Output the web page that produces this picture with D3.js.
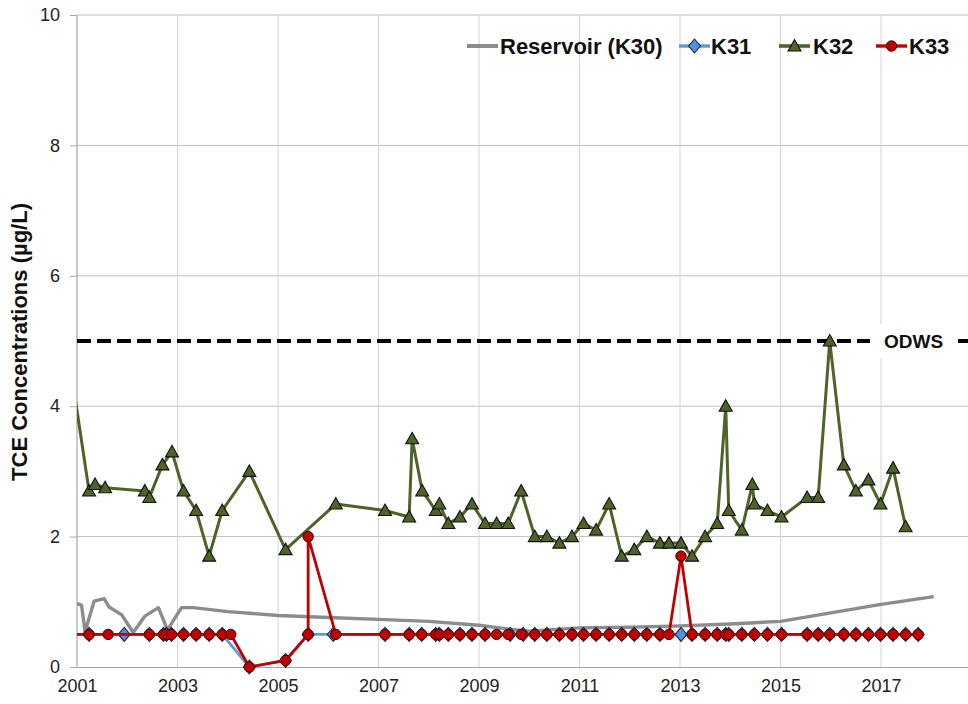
<!DOCTYPE html>
<html>
<head>
<meta charset="utf-8">
<script src="https://cdn.jsdelivr.net/npm/d3@7"></script>
<style>
  html, body { margin: 0; padding: 0; background: #fff; }
  svg { display: block; font-family: "Liberation Sans", Arial, sans-serif; }
</style>
</head>
<body>
<svg id="chart" width="968" height="704"></svg>
<script>
// ---------------- DATA ----------------
const xTickYears = [2001, 2003, 2005, 2007, 2009, 2011, 2013, 2015, 2017];
const yTickValues = [0, 2, 4, 6, 8, 10];
const odwsValue = 5;
const odwsLabel = "ODWS";
const yAxisTitle = "TCE Concentrations (µg/L)";
const seriesNames = ["Reservoir (K30)", "K31", "K32", "K33"];

// Reservoir (K30)
const k30Dates  = [2001.00, 2001.09, 2001.16, 2001.34, 2001.54, 2001.64, 2001.89, 2002.12, 2002.35, 2002.62, 2002.80, 2003.08, 2003.31, 2004.00, 2005.00, 2006.00, 2007.00, 2008.00, 2009.00, 2009.60, 2010.00, 2011.00, 2012.00, 2013.00, 2014.00, 2015.00, 2016.00, 2017.00, 2018.05];
const k30Values = [0.97, 0.95, 0.54, 1.01, 1.05, 0.92, 0.80, 0.53, 0.78, 0.91, 0.57, 0.91, 0.91, 0.85, 0.79, 0.76, 0.73, 0.70, 0.64, 0.58, 0.55, 0.60, 0.61, 0.63, 0.66, 0.70, 0.83, 0.96, 1.08];

// K31
const k31Dates  = [2000.85, 2001.24, 2001.94, 2002.44, 2002.72, 2002.78, 2002.88, 2003.12, 2003.37, 2003.63, 2003.89, 2004.43, 2005.15, 2005.60, 2006.10, 2007.13, 2007.61, 2007.86, 2008.14, 2008.21, 2008.39, 2008.62, 2008.86, 2009.12, 2009.62, 2009.88, 2010.11, 2010.35, 2010.60, 2010.85, 2011.08, 2011.33, 2011.59, 2011.84, 2012.09, 2012.34, 2012.60, 2013.02, 2013.24, 2013.50, 2013.74, 2013.91, 2013.97, 2014.23, 2014.48, 2014.74, 2015.02, 2015.53, 2015.75, 2015.98, 2016.26, 2016.50, 2016.75, 2016.99, 2017.24, 2017.49, 2017.74];
const k31Values = [0.5, 0.5, 0.5, 0.5, 0.5, 0.5, 0.5, 0.5, 0.5, 0.5, 0.5, 0.0, 0.1, 0.5, 0.5, 0.5, 0.5, 0.5, 0.5, 0.5, 0.5, 0.5, 0.5, 0.5, 0.5, 0.5, 0.5, 0.5, 0.5, 0.5, 0.5, 0.5, 0.5, 0.5, 0.5, 0.5, 0.5, 0.5, 0.5, 0.5, 0.5, 0.5, 0.5, 0.5, 0.5, 0.5, 0.5, 0.5, 0.5, 0.5, 0.5, 0.5, 0.5, 0.5, 0.5, 0.5, 0.5];

// K32
const k32Dates  = [2000.85, 2001.24, 2001.36, 2001.56, 2002.35, 2002.44, 2002.70, 2002.89, 2003.12, 2003.37, 2003.63, 2003.89, 2004.43, 2005.15, 2006.15, 2007.13, 2007.61, 2007.67, 2007.87, 2008.14, 2008.21, 2008.39, 2008.62, 2008.86, 2009.12, 2009.35, 2009.58, 2009.84, 2010.11, 2010.35, 2010.60, 2010.85, 2011.08, 2011.33, 2011.59, 2011.84, 2012.09, 2012.34, 2012.60, 2012.78, 2013.02, 2013.24, 2013.50, 2013.74, 2013.91, 2013.97, 2014.23, 2014.44, 2014.48, 2014.74, 2015.02, 2015.53, 2015.75, 2015.98, 2016.26, 2016.50, 2016.75, 2016.99, 2017.24, 2017.49];
const k32Values = [4.7, 2.7, 2.8, 2.75, 2.7, 2.6, 3.1, 3.3, 2.7, 2.4, 1.7, 2.4, 3.0, 1.8, 2.5, 2.4, 2.3, 3.5, 2.7, 2.4, 2.5, 2.2, 2.3, 2.5, 2.2, 2.2, 2.2, 2.7, 2.0, 2.0, 1.9, 2.0, 2.2, 2.1, 2.5, 1.7, 1.8, 2.0, 1.9, 1.9, 1.9, 1.7, 2.0, 2.2, 4.0, 2.4, 2.1, 2.8, 2.5, 2.4, 2.3, 2.6, 2.6, 5.0, 3.1, 2.7, 2.87, 2.5, 3.05, 2.15];

// K33
const k33Dates  = [2000.85, 2001.24, 2001.62, 2002.44, 2002.72, 2002.78, 2002.88, 2003.12, 2003.37, 2003.63, 2003.89, 2004.06, 2004.43, 2005.15, 2005.60, 2005.60, 2006.15, 2007.13, 2007.61, 2007.86, 2008.14, 2008.21, 2008.39, 2008.62, 2008.86, 2009.12, 2009.35, 2009.58, 2009.84, 2010.11, 2010.35, 2010.60, 2010.85, 2011.08, 2011.33, 2011.59, 2011.84, 2012.09, 2012.34, 2012.60, 2012.78, 2013.02, 2013.24, 2013.50, 2013.74, 2013.91, 2013.97, 2014.23, 2014.48, 2014.74, 2015.02, 2015.53, 2015.75, 2015.98, 2016.26, 2016.50, 2016.75, 2016.99, 2017.24, 2017.49, 2017.74];
const k33Values = [0.5, 0.5, 0.5, 0.5, 0.5, 0.5, 0.5, 0.5, 0.5, 0.5, 0.5, 0.5, 0.0, 0.1, 0.5, 2.0, 0.5, 0.5, 0.5, 0.5, 0.5, 0.5, 0.5, 0.5, 0.5, 0.5, 0.5, 0.5, 0.5, 0.5, 0.5, 0.5, 0.5, 0.5, 0.5, 0.5, 0.5, 0.5, 0.5, 0.5, 0.5, 1.7, 0.5, 0.5, 0.5, 0.5, 0.5, 0.5, 0.5, 0.5, 0.5, 0.5, 0.5, 0.5, 0.5, 0.5, 0.5, 0.5, 0.5, 0.5, 0.5];

// ---------------- CHART ----------------
const svg = d3.select("#chart");
const W = 968, H = 704;
const plot = { left: 77, top: 15, bottom: 667, right: 981.5 };

const x = d3.scaleLinear().domain([2001, 2019]).range([plot.left, plot.right]);
const y = d3.scaleLinear().domain([0, 10]).range([plot.bottom, plot.top]);

// gridlines
const grid = svg.append("g");
grid.selectAll("line.h").data(yTickValues.filter(v => v > 0)).join("line")
  .attr("x1", plot.left).attr("x2", W)
  .attr("y1", d => y(d)).attr("y2", d => y(d))
  .attr("stroke", "#bfbfbf").attr("stroke-width", 1);
grid.selectAll("line.v").data(xTickYears.filter(v => v > 2001)).join("line")
  .attr("x1", d => x(d)).attr("x2", d => x(d))
  .attr("y1", plot.top).attr("y2", plot.bottom)
  .attr("stroke", "#d4d4d4").attr("stroke-width", 1);

// axes
const xAxis = d3.axisBottom(x).tickValues(xTickYears).tickFormat(d3.format("d")).tickSize(0).tickPadding(12);
const gx = svg.append("g").attr("transform", `translate(0,${plot.bottom})`).call(xAxis);
gx.select(".domain").attr("stroke", "#a6a6a6").attr("stroke-width", 1.2);
gx.selectAll("text").attr("font-size", 18).attr("fill", "#222").attr("font-family", "Liberation Sans, Arial, sans-serif");

const yAxis = d3.axisLeft(y).tickValues(yTickValues).tickSize(7).tickPadding(10);
const gy = svg.append("g").attr("transform", `translate(${plot.left},0)`).call(yAxis);
gy.select(".domain").attr("stroke", "#a6a6a6").attr("stroke-width", 1.2).attr("d", `M0,${plot.top}V${plot.bottom}`);
gy.selectAll(".tick line").attr("stroke", "#a6a6a6");
gy.selectAll("text").attr("font-size", 18).attr("fill", "#222").attr("font-family", "Liberation Sans, Arial, sans-serif");

// y-axis title
svg.append("text")
  .attr("transform", `translate(27,${342}) rotate(-90)`)
  .attr("text-anchor", "middle")
  .attr("font-size", 22).attr("font-weight", "bold").attr("fill", "#111")
  .text(yAxisTitle);

// ODWS line
svg.append("line")
  .attr("x1", plot.left).attr("x2", W)
  .attr("y1", y(odwsValue)).attr("y2", y(odwsValue))
  .attr("stroke", "#000").attr("stroke-width", 4)
  .attr("stroke-dasharray", "14,6");
svg.append("rect")
  .attr("x", 870).attr("y", y(odwsValue) - 17).attr("width", 88).attr("height", 35)
  .attr("fill", "#fff");
svg.append("text")
  .attr("x", 884).attr("y", y(odwsValue) + 7)
  .attr("font-size", 19).attr("font-weight", "bold").attr("fill", "#111")
  .text(odwsLabel);

// clip for data
svg.append("clipPath").attr("id", "clip").append("rect")
  .attr("x", plot.left).attr("y", 0).attr("width", W - plot.left).attr("height", H);

const dataG = svg.append("g").attr("clip-path", "url(#clip)");
const line = d3.line().x(d => x(d[0])).y(d => y(d[1]));
const zip = (a, b) => a.map((d, i) => [d, b[i]]);

const diamondPath = "M0,-7L6,0L0,7L-6,0Z";
const trianglePath = "M0,-6.5L6.5,5L-6.5,5Z";

const series = [
  { name: seriesNames[0], pts: zip(k30Dates, k30Values), stroke: "#8c8c8c", width: 3.4, marker: null },
  { name: seriesNames[1], pts: zip(k31Dates, k31Values), stroke: "#5b9bd5", width: 2.8, marker: "diamond", fill: "#4f8fdc", mstroke: "#1c2a3a" },
  { name: seriesNames[2], pts: zip(k32Dates, k32Values), stroke: "#4f6228", width: 3.0, marker: "triangle", fill: "#4f6228", mstroke: "#111" },
  { name: seriesNames[3], pts: zip(k33Dates, k33Values), stroke: "#c00000", width: 2.8, marker: "circle", fill: "#c00000", mstroke: "#3a0000" }
];

function drawMarker(g, type, fill, stroke) {
  if (type === "circle") {
    g.append("circle").attr("r", 5.2).attr("fill", fill).attr("stroke", stroke).attr("stroke-width", 1);
  } else {
    g.append("path").attr("d", type === "diamond" ? diamondPath : trianglePath)
      .attr("fill", fill).attr("stroke", stroke).attr("stroke-width", 1.1);
  }
}

series.forEach(s => {
  const g = dataG.append("g");
  g.append("path").datum(s.pts).attr("d", line)
    .attr("fill", "none").attr("stroke", s.stroke).attr("stroke-width", s.width)
    .attr("stroke-linejoin", "round");
  if (s.marker) {
    g.selectAll("g.m").data(s.pts).join("g")
      .attr("transform", d => `translate(${x(d[0])},${y(d[1])})`)
      .each(function () { drawMarker(d3.select(this), s.marker, s.fill, s.mstroke); });
  }
});

// legend
const legendItems = [
  { s: series[0], lx: 467, tx: 500 },
  { s: series[1], lx: 679, tx: 711 },
  { s: series[2], lx: 779, tx: 813 },
  { s: series[3], lx: 876, tx: 909 }
];
const lg = svg.append("g");
legendItems.forEach(it => {
  const ly = 46;
  lg.append("line").attr("x1", it.lx).attr("x2", it.lx + 31).attr("y1", ly).attr("y2", ly)
    .attr("stroke", it.s.stroke).attr("stroke-width", it.s.width + 0.6);
  if (it.s.marker) {
    const mg = lg.append("g").attr("transform", `translate(${it.lx + 15.5},${ly})`);
    drawMarker(mg, it.s.marker, it.s.fill, it.s.mstroke);
  }
  lg.append("text").attr("x", it.tx).attr("y", ly + 8)
    .attr("font-size", 22).attr("font-weight", "bold").attr("fill", "#111")
    .text(it.s.name);
});
</script>
</body>
</html>
